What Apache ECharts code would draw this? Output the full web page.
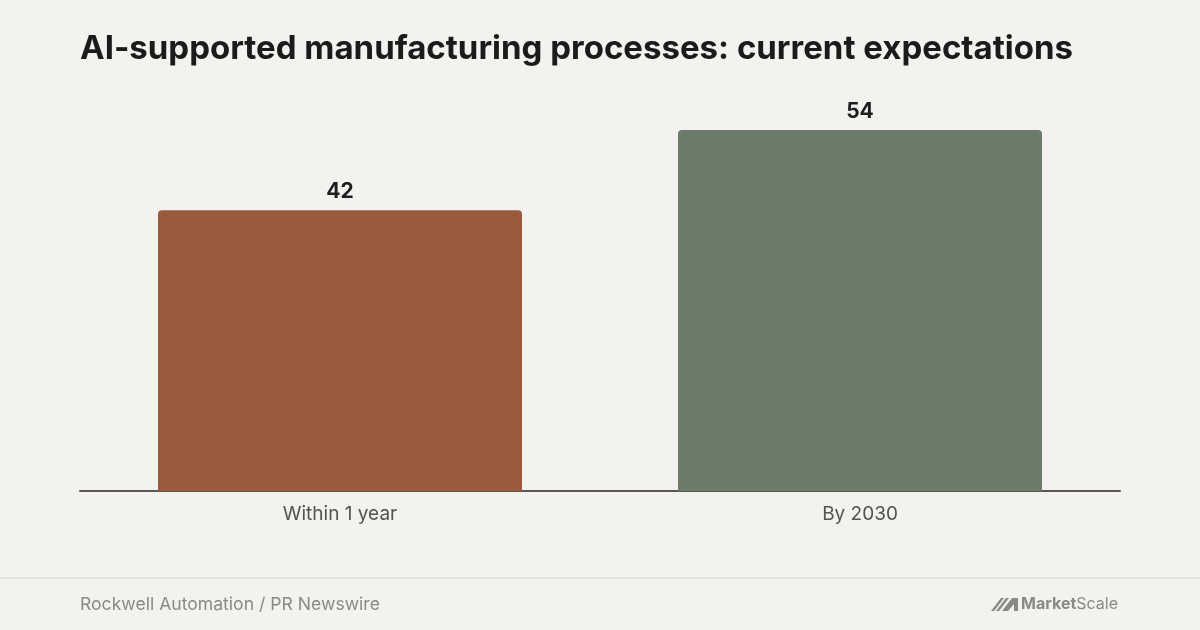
<!DOCTYPE html>
<html><head><meta charset="utf-8">
<script src="https://cdn.jsdelivr.net/npm/echarts@6/dist/echarts.min.js"></script>
<style>html,body{margin:0;padding:0;background:#f3f2ee}#c{width:1200px;height:630px}</style>
</head><body><div id="c"></div>
<script>
const categories = ["Within 1 year", "By 2030"];
const values = [42, 54];
const barColors = ["#9a5a3d", "#6b7c6a"];
const titleText = "AI-supported manufacturing processes: current expectations";
const sourceText = "Rockwell Automation / PR Newswire";

const chart = echarts.init(document.getElementById('c'));
chart.setOption({
  backgroundColor: '#f3f2ee',
  animation: false,
  title: {
    text: titleText, left: 75, top: 28,
    textStyle: { fontFamily: 'Inter', fontWeight: 'bold', fontSize: 33, color: '#1b1b1b' }
  },
  grid: { left: 80, right: 80, top: 130, bottom: 139 },
  xAxis: {
    type: 'category', data: categories,
    axisLine: { lineStyle: { color: '#5a5650', width: 2 } },
    axisTick: { show: false },
    axisLabel: { fontFamily: 'Inter', fontSize: 19, color: '#555350', margin: 14 }
  },
  yAxis: { type: 'value', min: 0, max: 54, show: false, splitLine: { show: false } },
  series: [{
    type: 'bar', barWidth: '70%',
    data: values.map((v, i) => ({ value: v, itemStyle: { color: barColors[i] } })),
    itemStyle: { borderRadius: [4, 4, 0, 0] },
    label: { show: true, position: 'top', distance: 8, fontFamily: 'Inter', fontWeight: 'bold', fontSize: 21, color: '#1e1e1e' }
  }],
  graphic: [
    { type: 'rect', shape: { x: 0, y: 577, width: 1200, height: 2 }, style: { fill: '#e5e4df' } },
    { type: 'text', left: 80, top: 596, style: { text: sourceText, fontFamily: 'Inter', fontSize: 17.6, fill: '#8a8984' } },
    { type: 'polygon', shape: { points: [[991,611],[1001,598],[1004,598],[994,611]] }, style: { fill: '#8a8984' } },
    { type: 'polygon', shape: { points: [[996,611],[1006,598],[1009,598],[999,611]] }, style: { fill: '#8a8984' } },
    { type: 'polygon', shape: { points: [[1002,611],[1012,598],[1018,598],[1018,611],[1014,611],[1014,604],[1008,611]] }, style: { fill: '#8a8984' } },
    { type: 'text', left: 1021, top: 596, style: {
      text: '{b|Market}{r|Scale}',
      rich: {
        b: { fontFamily: 'Inter', fontWeight: 'bold', fontSize: 16, fill: '#8a8984', color: '#8a8984' },
        r: { fontFamily: 'Inter', fontSize: 16, fill: '#8a8984', color: '#8a8984' }
      }
    } }
  ]
});
</script></body></html>
